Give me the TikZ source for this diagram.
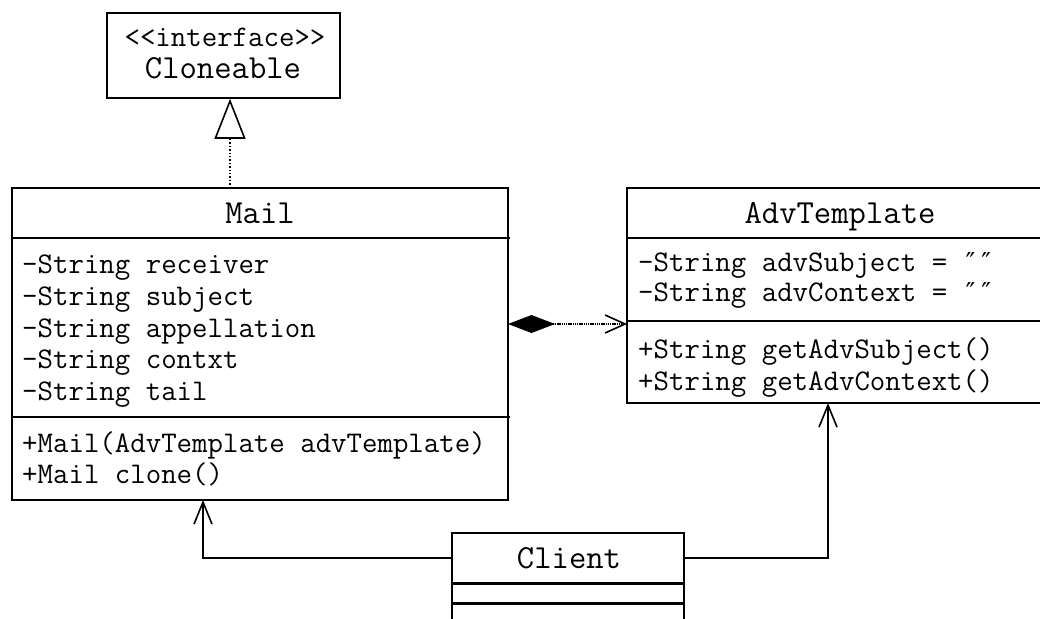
\documentclass[tikz,border=0pt]{standalone}
\usepackage{fontspec}
\setmainfont{Latin Modern Mono}
\newfontfamily\primefont{DejaVu Sans Mono}
\usetikzlibrary{arrows.meta}
\tikzset{
  box/.style={draw, line width=1.6pt, inner sep=0pt, fill=white},
  divider/.style={line width=1.6pt},
  txt/.style={inner sep=0pt, anchor=base west, text height=19pt, text depth=5pt, font=\fontsize{30}{34}\selectfont},
  ttl/.style={inner sep=0pt, anchor=base, font=\fontsize{33.7}{38}\selectfont},
  assoc/.style={line width=1.6pt, -{Straight Barb[length=22pt,width=18pt,line width=1.6pt]}},
  realize/.style={line width=1.4pt, dotted, -{Triangle[open,length=40pt,width=31pt,line width=1.6pt,fill=white]}},
  compose/.style={line width=1.6pt, dash pattern=on 1.5pt off 0.7pt,
    {Diamond[length=47pt,width=18pt]}-{Straight Barb[length=20pt,width=18pt,line width=1.6pt]}},
}
\newcommand{\dq}{{\primefont\fontsize{26}{30}\selectfont ″″}}
\begin{document}
\begin{tikzpicture}[x=1pt,y=-1pt]
\useasboundingbox (0,0) rectangle (1040,618);
\clip (0,0) rectangle (1040,618);
\fill[white] (0,0) rectangle (1040,618);

% Cloneable
\node[box, minimum width=233pt, minimum height=85pt] (clone) at (223.5,55.5) {};
\node[txt, anchor=base] (cloneS) at (225,47) {{<}{<}interface{>}{>}};
\node[ttl] (cloneT) at (223,78) {Cloneable};

% Mail
\node[box, minimum width=496pt, minimum height=312pt] (mail) at (260,344) {};
\draw[divider] (12,238) -- (510,238);
\draw[divider] (12,417) -- (510,417);
\node[ttl] (mailT) at (260,223) {Mail};
\node[txt] (ma1) at (22,273) {-String receiver};
\node[txt] (ma2) at (22,305) {-String subject};
\node[txt] (ma3) at (22,337) {-String appellation};
\node[txt] (ma4) at (22,368) {-String contxt};
\node[txt] (ma5) at (22,400) {-String tail};
\node[txt] (mm1) at (22,452) {+Mail(AdvTemplate advTemplate)};
\node[txt] (mm2) at (22,483) {+Mail clone()};

% AdvTemplate
\node[box, minimum width=426pt, minimum height=215pt] (adv) at (840,295.5) {};
\draw[divider] (627,238) -- (1053,238);
\draw[divider] (627,321) -- (1053,321);
\node[ttl] (advT) at (840,223) {AdvTemplate};
\node[txt] (aa1) at (638,271) {-String advSubject = \dq};
\node[txt] (aa2) at (638,301) {-String advContext = \dq};
\node[txt] (am1) at (638,358) {+String getAdvSubject()};
\node[txt] (am2) at (638,390) {+String getAdvContext()};

% Client
\node[box, minimum width=232pt, minimum height=50pt] (client) at (568,558) {};
\node[box, minimum width=232pt, minimum height=18pt, anchor=north] (clientA) at (client.south) {};
\node[box, minimum width=232pt, minimum height=40pt, anchor=north] (clientB) at (clientA.south) {};
\node[ttl] (clientT) at (569,568) {Client};

% connectors
\coordinate (triB) at (230,188);
\coordinate (mailIn) at (203,500);
\coordinate (advIn) at (828,403);
\coordinate (compS) at (508,324);
\coordinate (compE) at (627,324);
\draw[realize] (triB) -- (clone.south -| triB);
\draw[compose] (compS) -- (compE);
\draw[assoc] (client.west) -| (mailIn);
\draw[assoc] (client.east) -| (advIn);
\end{tikzpicture}
\end{document}
